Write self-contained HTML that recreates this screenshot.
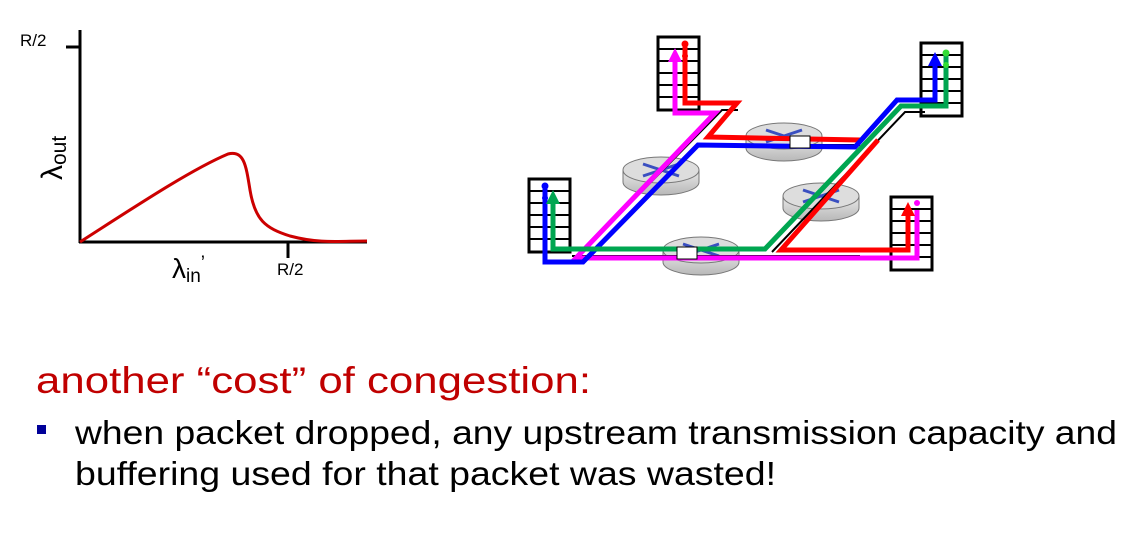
<!DOCTYPE html>
<html><head><meta charset="utf-8"><style>
html,body{margin:0;padding:0;background:#fff;}
svg{display:block;}
text{font-family:"Liberation Sans",sans-serif;}
</style></head><body>
<svg width="1138" height="535" viewBox="0 0 1138 535" xmlns="http://www.w3.org/2000/svg">
<defs>
<linearGradient id="rg" x1="0" y1="0" x2="0" y2="1"><stop offset="0" stop-color="#e8e8e8"/><stop offset="1" stop-color="#b8b8b8"/></linearGradient>
<g id="router">
  <path d="M-38,0 v12 a38,13 0 0 0 76,0 v-12" fill="url(#rg)" stroke="#777" stroke-width="1"/>
  <ellipse cx="0" cy="0" rx="38" ry="13" fill="#ddd" stroke="#777" stroke-width="1"/>
  <path d="M-18,-6 L18,6 M-18,6 L18,-6" stroke="#3a4fc0" stroke-width="3"/>
</g>
<g id="host">
  <rect x="0" y="0" width="41" height="73" fill="#fff" stroke="#000" stroke-width="3"/>
  <path d="M0,12 H41 M0,24 H41 M0,36 H41 M0,48 H41 M0,60 H41" stroke="#000" stroke-width="2"/>
</g>
</defs>

<line x1="80" y1="30" x2="80" y2="243" stroke="#000" stroke-width="3"/>
<line x1="66" y1="47" x2="80" y2="47" stroke="#000" stroke-width="3"/>
<line x1="79" y1="242" x2="367" y2="242" stroke="#000" stroke-width="3"/>
<line x1="288" y1="242" x2="288" y2="258" stroke="#000" stroke-width="3"/>
<text x="20" y="46" font-size="17">R/2</text>
<text x="277" y="275" font-size="17">R/2</text>
<text x="172" y="278" font-size="28">λ<tspan font-size="19" dy="4">in</tspan><tspan font-size="19" dy="-13">’</tspan></text>
<text transform="translate(62,180) rotate(-90)" font-size="30">λ<tspan font-size="21" dy="4">out</tspan></text>
<path d="M80,242 C130,210 190,170 228,154 C244,150 246,165 250,190 C255,220 265,228 290,236 C320,244 340,241 367,241" fill="none" stroke="#cc0000" stroke-width="3"/>

<use href="#router" x="661" y="170"/>
<use href="#router" x="784" y="136"/>
<use href="#router" x="821" y="196"/>
<use href="#router" x="701" y="250"/>
<use href="#host" x="658" y="37"/>
<use href="#host" x="921" y="43"/>
<use href="#host" x="529" y="179"/>
<use href="#host" x="891" y="197"/>

<g stroke="#000" stroke-width="2" fill="none">
<path d="M572,256 L860,256"/>
<path d="M578,256 L722,110 L738,110"/>
<path d="M700,145 L860,145"/>
<path d="M772,252 L905,112 L925,112"/>
</g>
<g stroke-width="5" fill="none" stroke-linejoin="miter">
<path d="M675,58 V113 H715 L576,258 H917 V210" stroke="#ff00ff"/>
<path d="M685,46 V103 H737 L708,137 L860,140" stroke="#ff0000"/>
<path d="M878,140 L781,250 H908 V214" stroke="#ff0000"/>
<path d="M545,187 V262 H583 L698,145 L855,147 L897,100 H935 V62" stroke="#0000ff"/>
<path d="M553,202 V249 H765 L901,106 H946 V55" stroke="#00a651"/>
</g>
<path d="M668,62 L675,48 L682,62 Z" fill="#ff00ff"/>
<path d="M546,204 L553,190 L560,204 Z" fill="#00a651"/>
<path d="M928,66 L935,52 L942,66 Z" fill="#0000ff"/>
<path d="M901,216 L908,202 L915,216 Z" fill="#ff0000"/>
<circle cx="685" cy="44" r="3.5" fill="#ff0000"/><circle cx="685" cy="56" r="3" fill="#ff0000"/>
<circle cx="545" cy="186" r="3.5" fill="#0000ff"/><circle cx="545" cy="198" r="3" fill="#0000ff"/>
<circle cx="946" cy="53" r="3.5" fill="#33dd33"/><circle cx="946" cy="65" r="3" fill="#33dd33"/>
<circle cx="917" cy="203" r="3" fill="#ff00ff"/>
<rect x="790" y="136" width="20" height="12" fill="#fff" stroke="#000" stroke-width="1"/>
<rect x="677" y="247" width="20" height="12" fill="#fff" stroke="#000" stroke-width="1"/>

<text x="36" y="393" font-size="37" fill="#c00000" textLength="555" lengthAdjust="spacingAndGlyphs">another “cost” of congestion:</text>
<rect x="37" y="425" width="9" height="9" fill="#000099"/>
<text x="75" y="444" font-size="33" fill="#000" textLength="1042" lengthAdjust="spacingAndGlyphs">when packet dropped, any upstream transmission capacity and</text>
<text x="75" y="485" font-size="33" fill="#000" textLength="701" lengthAdjust="spacingAndGlyphs">buffering used for that packet was wasted!</text>
</svg>
</body></html>
